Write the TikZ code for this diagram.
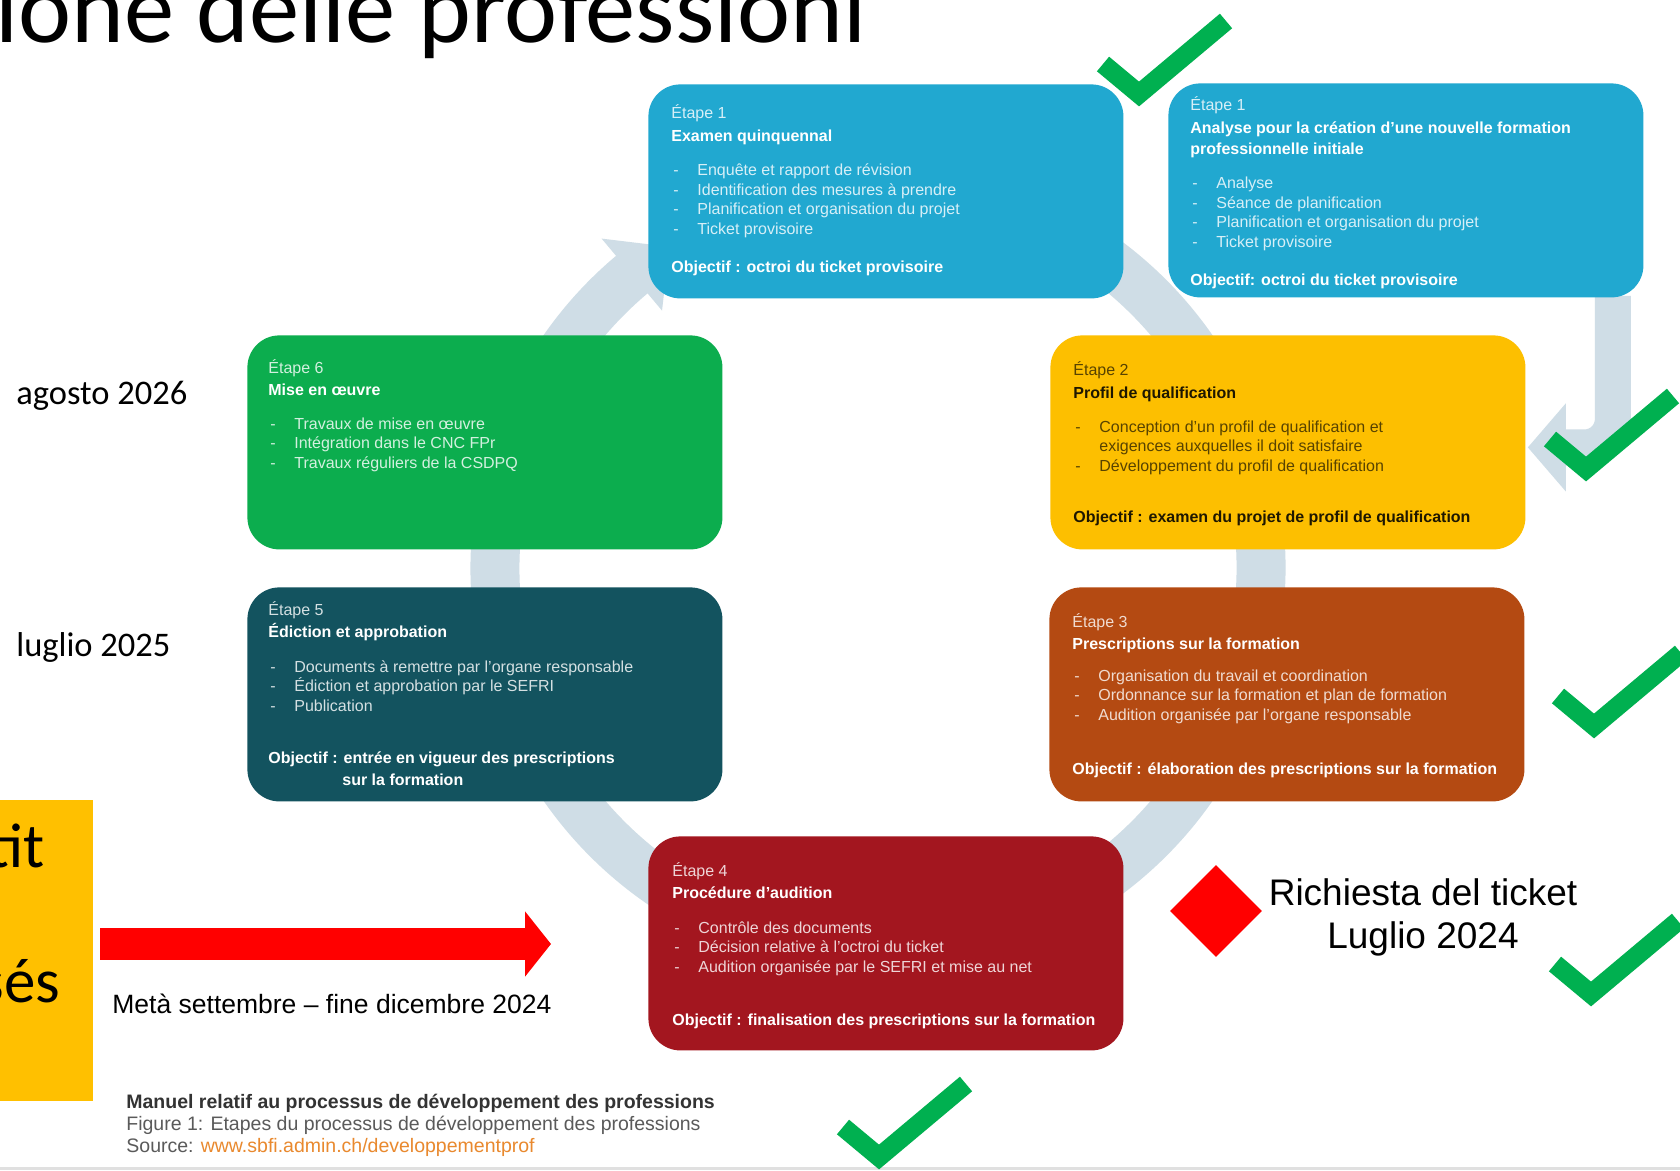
\documentclass[tikz,border=0pt]{standalone}
\usepackage{fontspec}
\setmainfont{Liberation Sans}
\newfontfamily\calibrifont{Carlito}
\usetikzlibrary{arrows.meta,shapes.geometric}
\definecolor{cB}{HTML}{21A8D0}
\definecolor{cG}{HTML}{0CAD4E}
\definecolor{cY}{HTML}{FDBF00}
\definecolor{cT}{HTML}{13535F}
\definecolor{cO}{HTML}{B44A12}
\definecolor{cR}{HTML}{A3161F}
\definecolor{ringc}{HTML}{CFDDE6}
\definecolor{chkc}{HTML}{00B050}
\definecolor{ylwc}{HTML}{FFC000}
\definecolor{urlc}{HTML}{E9892E}
\definecolor{ft1}{HTML}{333333}
\definecolor{ft2}{HTML}{5A5A5A}
\colorlet{sB}{white!82!cB}
\colorlet{sG}{white!82!cG}
\colorlet{sT}{white!82!cT}
\colorlet{sO}{white!80!cO}
\colorlet{sR}{white!82!cR}
\colorlet{yT}{black!88!cY}
\colorlet{yS}{black!65!cY}
\newcommand\bitem[1]{\makebox[13pt][l]{\hspace{1pt}-}#1}
\pgfdeclarelayer{bg}
\pgfsetlayers{bg,main}
\begin{document}
\begin{tikzpicture}[x=0.5pt,y=-0.5pt,
  stepbox/.style={rounded corners=16pt, minimum width=237.5pt, minimum height=107pt, inner sep=0pt, anchor=north west},
  boxtext/.style={anchor=north west, inner sep=0pt, align=left, font=\fontsize{8pt}{9.75pt}\selectfont},
  chk/.pic={\draw[chkc, line width=9.5pt] (-36,-30) -- (0,0) -- (87,-73);}
]
\useasboundingbox (0,0) rectangle (1680,1171);
\clip (0,0) rectangle (1680,1171);

% step boxes
\node[stepbox, fill=cB] (b1) at (648,84) {};
\node[stepbox, fill=cB] (b2) at (1168,83) {};
\node[stepbox, fill=cG] (s6) at (247,335) {};
\node[stepbox, fill=cY] (s2) at (1050,335) {};
\node[stepbox, fill=cT] (s5) at (247,587) {};
\node[stepbox, fill=cO] (s3) at (1049,587) {};
\node[stepbox, fill=cR] (s4) at (648,836) {};

\begin{pgfonlayer}{bg}
\fill[white] (0,0) rectangle (1680,1171);
\coordinate (rc) at (878,568);
\draw[ringc, line width=24.5pt] ([shift={(-80:383)}]rc) arc[start angle=-80, end angle=231, radius=383];
\fill[ringc] ([shift={(230:430)}]rc) -- ([shift={(230:336)}]rc) -- ([shift={(237:383)}]rc) -- cycle;
\draw[ringc, line width=18pt, rounded corners=14pt, -{Triangle[width=43pt,length=19pt]}]
  ([shift={(-31,-2)}]b2.south east) |- ([shift={(2,5)}]s2.east);
\draw[black!12, line width=1.5pt] (0,1168) -- (1680,1168);
\end{pgfonlayer}

% title and side labels
\node[anchor=base west, inner sep=0pt, font=\calibrifont\fontsize{50.25pt}{52pt}\selectfont] (title) at (-5,43) {ione delle professioni};
\node[anchor=base west, inner sep=0pt, font=\calibrifont\fontsize{17.25pt}{20pt}\selectfont] (aug) at (16,405) {agosto 2026};
\node[anchor=base west, inner sep=0pt, font=\calibrifont\fontsize{17.25pt}{20pt}\selectfont] (jul) at (16,656) {luglio 2025};

% left yellow box
\node[fill=ylwc, minimum width=46.5pt, minimum height=150.5pt, inner sep=0pt, anchor=north west] (ylw) at (0,800) {};
\node[anchor=base east, inner sep=0pt, font=\calibrifont\fontsize{31.5pt}{35pt}\selectfont] (tit) at (45,867) {tit};
\node[anchor=base east, inner sep=0pt, font=\calibrifont\fontsize{31.5pt}{35pt}\selectfont] (ses) at (61,1002) {sés};

% red arrow
\coordinate (ra) at (100,944);
\coordinate (rb) at (551,944);
\draw[red, line width=16pt, -{Triangle[width=32pt,length=13pt]}] (ra) -- (rb);
\node[anchor=base west, inner sep=0pt, font=\fontsize{13.25pt}{15pt}\selectfont] (meta) at (112,1013) {Metà settembre – fine dicembre 2024};

% ticket request
\node[diamond, fill=red, minimum width=46pt, minimum height=46pt, inner sep=0pt] (dia) at (1216,911) {};
\node[anchor=north, inner sep=0pt, align=center, font=\fontsize{18.5pt}{21.5pt}\selectfont] (req) at (1423,877) {\rule{0pt}{14pt}Richiesta del ticket\\Luglio 2024};

% box texts
\node[boxtext, text=white] (t1) at ([shift={(23,18)}]b1.north west) {%
\rule{0pt}{8pt}\textcolor{sB}{Étape 1}\\[2pt]
\textbf{Examen quinquennal}\\[7.25pt]
\textcolor{sB}{\bitem{Enquête et rapport de révision}}\\
\textcolor{sB}{\bitem{Identification des mesures à prendre}}\\
\textcolor{sB}{\bitem{Planification et organisation du projet}}\\
\textcolor{sB}{\bitem{Ticket provisoire}}\\[9.25pt]
\textbf{Objectif : octroi du ticket provisoire}};

\node[boxtext, text=white] (t1n) at ([shift={(22,11)}]b2.north west) {%
\rule{0pt}{8pt}\textcolor{sB}{Étape 1}\\[2pt]
\textbf{Analyse pour la création d’une nouvelle formation}\\[0.75pt]
\textbf{professionnelle initiale}\\[7.25pt]
\textcolor{sB}{\bitem{Analyse}}\\
\textcolor{sB}{\bitem{Séance de planification}}\\
\textcolor{sB}{\bitem{Planification et organisation du projet}}\\
\textcolor{sB}{\bitem{Ticket provisoire}}\\[9.25pt]
\textbf{Objectif: octroi du ticket provisoire}};

\node[boxtext, text=white] (t6) at ([shift={(21,22)}]s6.north west) {%
\rule{0pt}{8pt}\textcolor{sG}{Étape 6}\\[1.25pt]
\textbf{Mise en œuvre}\\[7.25pt]
\textcolor{sG}{\bitem{Travaux de mise en œuvre}}\\
\textcolor{sG}{\bitem{Intégration dans le CNC FPr}}\\
\textcolor{sG}{\bitem{Travaux réguliers de la CSDPQ}}};

\node[boxtext, text=yT] (t2) at ([shift={(23,24)}]s2.north west) {%
\rule{0pt}{8pt}\textcolor{yS}{Étape 2}\\[1.75pt]
\textbf{Profil de qualification}\\[7.25pt]
\textcolor{yS}{\bitem{Conception d’un profil de qualification et}}\\
\textcolor{yS}{\hspace*{13pt}exigences auxquelles il doit satisfaire}\\
\textcolor{yS}{\bitem{Développement du profil de qualification}}\\[15.75pt]
\textbf{Objectif : examen du projet de profil de qualification}};

\node[boxtext, text=white] (t5) at ([shift={(21,12)}]s5.north west) {%
\rule{0pt}{8pt}\textcolor{sT}{Étape 5}\\[1.25pt]
\textbf{Édiction et approbation}\\[7.75pt]
\textcolor{sT}{\bitem{Documents à remettre par l’organe responsable}}\\
\textcolor{sT}{\bitem{Édiction et approbation par le SEFRI}}\\
\textcolor{sT}{\bitem{Publication}}\\[16.25pt]
\textbf{Objectif : entrée en vigueur des prescriptions}\\[1.25pt]
\hspace*{37pt}\textbf{sur la formation}};

\node[boxtext, text=white] (t3) at ([shift={(23,24)}]s3.north west) {%
\rule{0pt}{8pt}\textcolor{sO}{Étape 3}\\[1.25pt]
\textbf{Prescriptions sur la formation}\\[6.25pt]
\textcolor{sO}{\bitem{Organisation du travail et coordination}}\\
\textcolor{sO}{\bitem{Ordonnance sur la formation et plan de formation}}\\
\textcolor{sO}{\bitem{Audition organisée par l’organe responsable}}\\[17.25pt]
\textbf{Objectif : élaboration des prescriptions sur la formation}};

\node[boxtext, text=white] (t4) at ([shift={(24,24)}]s4.north west) {%
\rule{0pt}{8pt}\textcolor{sR}{Étape 4}\\[1.25pt]
\textbf{Procédure d’audition}\\[7.75pt]
\textcolor{sR}{\bitem{Contrôle des documents}}\\
\textcolor{sR}{\bitem{Décision relative à l’octroi du ticket}}\\
\textcolor{sR}{\bitem{Audition organisée par le SEFRI et mise au net}}\\[16.75pt]
\textbf{Objectif : finalisation des prescriptions sur la formation}};

% footer
\node[anchor=north west, inner sep=0pt, align=left, font=\fontsize{9.75pt}{11pt}\selectfont] (foot) at (126,1092) {%
\rule{0pt}{8pt}\textcolor{ft1}{\textbf{Manuel relatif au processus de développement des professions}}\\
\textcolor{ft2}{Figure 1: Etapes du processus de développement des professions}\\
\textcolor{ft2}{Source:} \textcolor{urlc}{www.sbfi.admin.ch/developpementprof}};

% check marks
\pic (c1) at (1139,94) {chk};
\pic (c2) at (1586,469) {chk};
\pic (c3) at (1594,726) {chk};
\pic (c4) at (1591,994) {chk};
\pic (c5) at (879,1157) {chk};
\end{tikzpicture}
\end{document}
